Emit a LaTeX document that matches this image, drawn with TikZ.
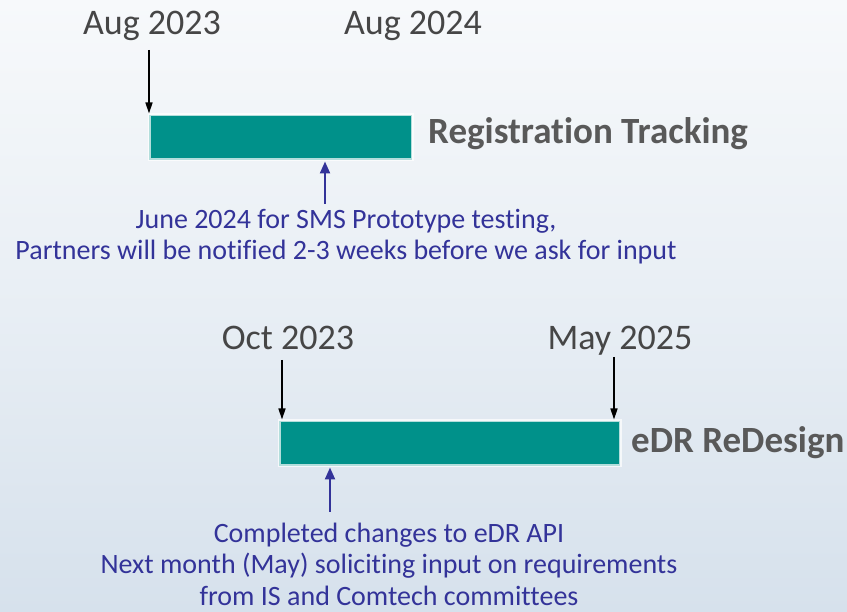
\documentclass[tikz,border=0pt]{standalone}
\usepackage{fontspec}
\setmainfont{Carlito}[Ligatures=NoCommon]
\usetikzlibrary{arrows.meta}

\definecolor{barteal}{RGB}{0,145,138}
\definecolor{dategray}{RGB}{70,70,70}
\definecolor{titlegray}{RGB}{89,89,89}
\definecolor{noteblue}{RGB}{51,51,153}
\definecolor{skytop}{RGB}{247,249,251}
\definecolor{skybottom}{RGB}{214,225,236}

\tikzset{
  bar/.style={fill=barteal, draw=white, draw opacity=0.7, line width=3pt, inner sep=0pt},
  datelabel/.style={text=dategray, font=\fontsize{36}{40}\selectfont, anchor=base, inner sep=0pt},
  tasklabel/.style={text=titlegray, font=\fontsize{37}{40}\selectfont\bfseries, anchor=base west, inner sep=0pt},
  note/.style={text=noteblue, font=\fontsize{28}{31.5}\selectfont, align=center, anchor=base, inner sep=0pt},
  startarrow/.style={black, line width=1.5pt, -{Triangle[length=11pt,width=7pt]}},
  notearrow/.style={noteblue, line width=2.2pt, -{Triangle[length=12pt,width=10pt]}}
}

\begin{document}
\begin{tikzpicture}[x=1pt, y=-1pt]
  % background
  \shade[top color=skytop, bottom color=skybottom, middle color=skytop!55!skybottom] (0,0) rectangle (847,612);
  \useasboundingbox (0,0) rectangle (847,612);

  % Registration Tracking
  \node[bar, minimum width=263pt, minimum height=45pt] (regbar) at (280.5,137.5) {};
  \node[tasklabel] (regtitle) at (428,144) {Registration Tracking};
  \node[datelabel] (regstart) at (152,35) {Aug 2023};
  \node[datelabel] (regend) at (413,35) {Aug 2024};
  \coordinate (regstarttail) at (149,50);
  \draw[startarrow] (regstarttail) -- (regstarttail |- regbar.north);

  \coordinate (regnotetail) at (325,204);
  \draw[notearrow] (regnotetail) -- (regbar.south -| regnotetail);
  % base = last line
  \node[note] (regnote) at (346,260) {June 2024 for SMS Prototype testing,\\Partners will be notified 2-3 weeks before we ask for input};

  % eDR ReDesign
  \node[bar, minimum width=341pt, minimum height=45pt] (edrbar) at (449.5,443.5) {};
  \node[tasklabel] (edrtitle) at (631,453) {eDR ReDesign};
  \node[datelabel] (edrstart) at (288,350) {Oct 2023};
  \node[datelabel] (edrend) at (620,350) {May 2025};
  \coordinate (edrstarttail) at (282,360);
  \coordinate (edrendtail) at (614,357);
  \draw[startarrow] (edrstarttail) -- (edrstarttail |- edrbar.north);
  \draw[startarrow] (edrendtail) -- (edrendtail |- edrbar.north);

  \coordinate (edrnotetail) at (330,512);
  \draw[notearrow] (edrnotetail) -- (edrbar.south -| edrnotetail);
  \node[note] (edrnote) at (389,605) {Completed changes to eDR API\\Next month (May) soliciting input on requirements\\from IS and Comtech committees};
\end{tikzpicture}
\end{document}
